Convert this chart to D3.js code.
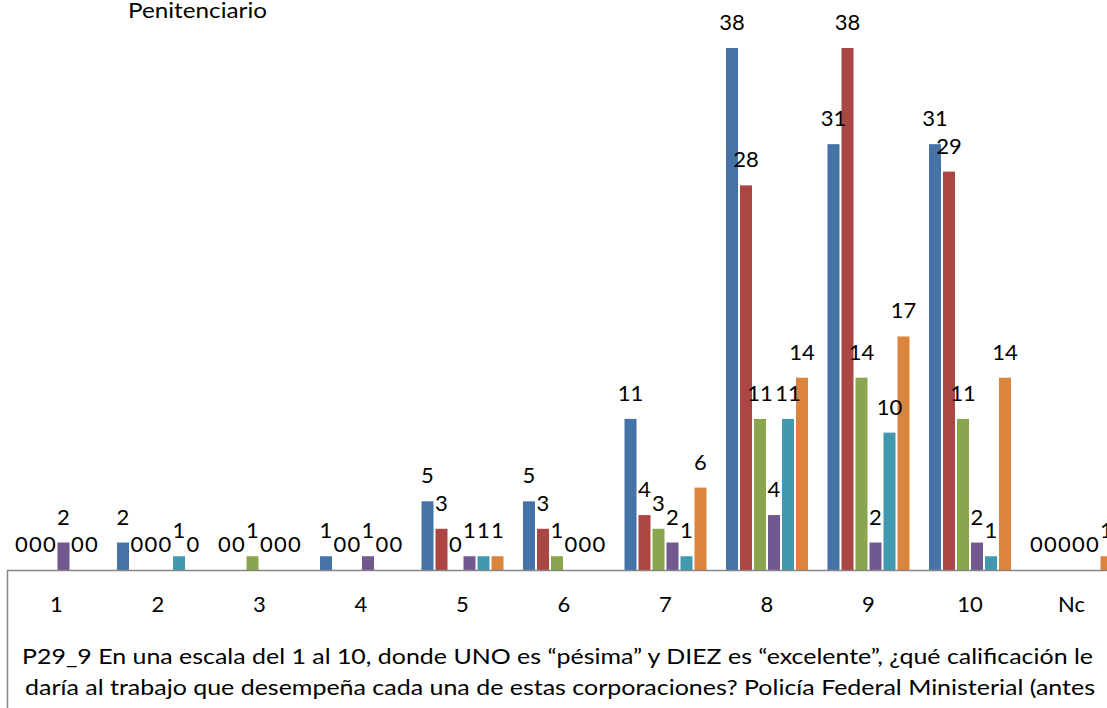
<!DOCTYPE html>
<html><head><meta charset="utf-8">
<script src="https://cdn.jsdelivr.net/npm/d3@7"></script>
<style>html,body{margin:0;padding:0;background:#fff;overflow:hidden}</style>
</head><body>
<svg id="c" width="1107" height="708"></svg>
<script>
const categories = ["1","2","3","4","5","6","7","8","9","10","Nc"];
const seriesNames = ["S1","S2","S3","S4","S5","S6"];
const colors = ["#4572A7","#AA4643","#89A54E","#71588F","#4198AF","#DB843D"];
const s1 = [0,2,0,1,5,5,11,38,31,31,0];
const s2 = [0,0,0,0,3,3,4,28,38,29,0];
const s3 = [0,0,1,0,0,1,3,11,14,11,0];
const s4 = [2,0,0,1,1,0,2,4,2,2,0];
const s5 = [0,1,0,0,1,0,1,11,10,1,0];
const s6 = [0,0,0,0,1,0,6,14,17,14,1];
const seriesValues = [s1,s2,s3,s4,s5,s6];
const titleTop = "Penitenciario";
const bottomLines = ["P29_9 En una escala del 1 al 10, donde UNO es “pésima” y DIEZ es “excelente”, ¿qué calificación le",
  "daría al trabajo que desempeña cada una de estas corporaciones? Policía Federal Ministerial (antes"];

const svg = d3.select("#c");
const font = "Lato, 'Open Sans', sans-serif";
const fs = 22;
const base = 570;
const x0 = d3.scaleBand().domain(categories).range([5.75, 5.75 + 101.5*11]).paddingInner(0).paddingOuter(0);
const x1 = d3.scaleBand().domain(seriesNames).range([8.75, 8.75 + 84]).padding(0);
const y = d3.scaleLinear().domain([0,38]).range([base,48]);
const bw = 12;

const data = [];
categories.forEach((c,i)=>seriesNames.forEach((s,j)=>data.push({c, s, j, v: seriesValues[j][i]})));

svg.append("g").selectAll("rect").data(data.filter(d=>d.v>0)).join("rect")
  .attr("x", d=>x0(d.c)+x1(d.s)+(x1.bandwidth()-bw)/2)
  .attr("y", d=>y(d.v))
  .attr("width", bw)
  .attr("height", d=>base - y(d.v))
  .attr("fill", d=>colors[d.j]);

svg.append("g").selectAll("text").data(data).join("text")
  .attr("x", d=>x0(d.c)+x1(d.s)+x1.bandwidth()/2)
  .attr("y", d=>y(d.v)-18)
  .attr("text-anchor","middle")
  .attr("font-family", font).attr("font-size", fs).attr("fill","#000")
  .text(d=>d.v);

// axis
svg.append("line").attr("x1",7).attr("x2",1107).attr("y1",base+0.5).attr("y2",base+0.5).attr("stroke","#868686").attr("stroke-width",1.5);
svg.append("line").attr("x1",7.5).attr("x2",7.5).attr("y1",base).attr("y2",708).attr("stroke","#868686").attr("stroke-width",1.5);

svg.append("g").selectAll("text").data(categories).join("text")
  .attr("x", d=>x0(d)+x0.bandwidth()/2)
  .attr("y", 612)
  .attr("text-anchor","middle")
  .attr("font-family", font).attr("font-size", fs).attr("fill","#000")
  .text(d=>d);

svg.append("text").attr("x",128).attr("y",18)
  .attr("font-family", font).attr("font-size", fs).attr("fill","#000")
  .attr("textLength", 139).attr("lengthAdjust","spacingAndGlyphs").text(titleTop);

const bx = [[22,1093],[25,1095]];
bottomLines.forEach((t,i)=>{
  svg.append("text").attr("x",bx[i][0]).attr("y",[664,695][i])
    .attr("font-family", font).attr("font-size", fs).attr("fill","#000")
    .attr("textLength", bx[i][1]-bx[i][0]).attr("lengthAdjust","spacingAndGlyphs")
    .text(t);
});
</script>
</body></html>
